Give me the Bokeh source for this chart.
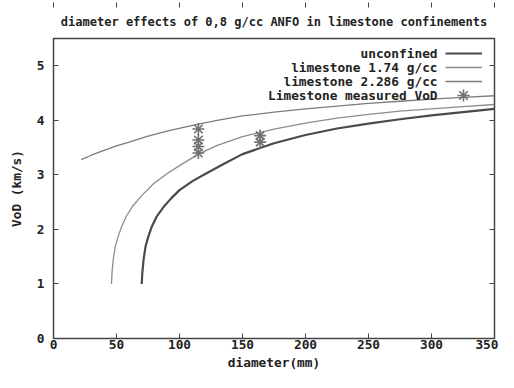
from bokeh.plotting import figure
from bokeh.models import (Range1d, LinearAxis, Legend, LegendItem, Label,
                          FixedTicker, Title)
from bokeh.embed import file_html
from bokeh.resources import INLINE

# ---- data ----
unconf_d = [70, 70.5, 71.5, 73, 75, 78, 82, 87, 93, 100, 110, 120, 135, 150,
            175, 200, 225, 250, 275, 300, 325, 350]
unconf_v = [1.0, 1.2, 1.45, 1.68, 1.85, 2.05, 2.24, 2.40, 2.56, 2.72, 2.88,
            3.01, 3.20, 3.38, 3.58, 3.73, 3.85, 3.94, 4.02, 4.09, 4.15, 4.21]

ls174_d = [46, 46.5, 47.5, 49, 51, 54, 58, 63, 70, 80, 90, 100, 115, 130, 150,
           175, 200, 225, 250, 275, 300, 325, 350]
ls174_v = [1.0, 1.22, 1.47, 1.68, 1.85, 2.05, 2.25, 2.43, 2.62, 2.85, 3.02,
           3.17, 3.38, 3.54, 3.70, 3.84, 3.95, 4.04, 4.11, 4.17, 4.21, 4.25, 4.29]

ls2286_d = [22, 30, 40, 50, 60, 75, 90, 105, 115, 130, 150, 175, 200, 225, 250,
            275, 300, 325, 350]
ls2286_v = [3.28, 3.36, 3.45, 3.53, 3.60, 3.71, 3.80, 3.88, 3.93, 4.00, 4.08,
            4.15, 4.21, 4.26, 4.31, 4.35, 4.39, 4.42, 4.45]

meas_d = [115, 115, 115, 115, 164, 164]
meas_v = [3.40, 3.52, 3.64, 3.84, 3.60, 3.72]

series_names = ["unconfined", "limestone 1.74 g/cc", "limestone 2.286 g/cc",
                "Limestone measured VoD"]
x_ticks = [0, 50, 100, 150, 200, 250, 300, 350]
y_ticks = [0, 1, 2, 3, 4, 5]

FONT = "DejaVu Sans Mono"
FS = "12.8px"
TXT = "#222222"

p = figure(width=498, height=372, x_range=Range1d(0, 350), y_range=Range1d(0, 5.5),
           output_backend="svg", toolbar_location=None,
           min_border_left=53, min_border_right=4, min_border_top=38,
           min_border_bottom=34)
p.add_layout(Title(text="diameter effects of 0,8 g/cc ANFO in limestone confinements",
                   align="center", text_font=FONT, text_font_size="12px",
                   text_font_style="bold", text_color=TXT, standoff=20), "above")

p.xgrid.visible = False
p.ygrid.visible = False
p.outline_line_color = "#444444"
p.outline_line_width = 1.5
p.background_fill_color = "white"

for ax in (p.xaxis[0], p.yaxis[0]):
    ax.axis_line_color = None
    ax.major_tick_in = 5
    ax.major_tick_out = 0
    ax.minor_tick_line_color = None
    ax.major_tick_line_color = "#444444"
    ax.major_label_text_font = FONT
    ax.major_label_text_font_size = FS
    ax.major_label_text_font_style = "bold"
    ax.major_label_text_color = TXT
    ax.axis_label_text_font = FONT
    ax.axis_label_text_font_size = FS
    ax.axis_label_text_font_style = "bold"
    ax.axis_label_text_color = TXT

p.xaxis[0].ticker = FixedTicker(ticks=x_ticks)
p.yaxis[0].ticker = FixedTicker(ticks=y_ticks)
p.xaxis[0].axis_label = "diameter(mm)"
p.yaxis[0].axis_label = "VoD (km/s)"
p.xaxis[0].major_label_standoff = 1
p.xaxis[0].axis_label_standoff = 3
p.yaxis[0].major_label_standoff = 9
p.yaxis[0].axis_label_standoff = 10

# mirrored ticks (top / right), no labels
top = LinearAxis(ticker=FixedTicker(ticks=x_ticks))
right = LinearAxis(ticker=FixedTicker(ticks=y_ticks))
for ax in (top, right):
    ax.axis_line_color = None
    ax.major_tick_in = 5
    ax.major_tick_out = 0
    ax.minor_tick_line_color = None
    ax.major_tick_line_color = "#444444"
    ax.major_label_text_font_size = "1px"
    ax.major_label_text_color = None
    ax.major_label_standoff = 0
p.add_layout(top, "above")
p.add_layout(right, "right")

r1 = p.line(unconf_d, unconf_v, line_color="#4a4a4a", line_width=2.2)
r2 = p.line(ls174_d, ls174_v, line_color="#8c8c8c", line_width=1.3)
r3 = p.line(ls2286_d, ls2286_v, line_color="#7c7c7c", line_width=1.3)
r4 = p.scatter(meas_d, meas_v, marker="asterisk", size=12, line_color="#707070",
               line_width=1.6)

leg = Legend(items=[LegendItem(label=" ", renderers=[r]) for r in (r1, r2, r3)],
             location="top_right", margin=8, padding=0, label_width=4,
             label_standoff=0, glyph_width=37, glyph_height=14, label_height=14,
             spacing=0, border_line_color=None, background_fill_alpha=0,
             label_text_font_size="1px", label_text_color=None)
p.add_layout(leg)

leg_star = Legend(items=[LegendItem(label=" ", renderers=[r4])],
                  location=(395, 228), margin=0, padding=0, label_width=0,
                  label_standoff=0, glyph_width=30, glyph_height=30,
                  label_height=30, spacing=0, border_line_color=None,
                  background_fill_alpha=0, label_text_font_size="1px",
                  label_text_color=None)
p.add_layout(leg_star)

# legend texts, right aligned, one per legend row
leg_x = 304.8
leg_y = [5.225, 4.968, 4.712, 4.455]
for name, yy in zip(series_names, leg_y):
    p.add_layout(Label(x=leg_x, y=yy, text=name, text_align="right",
                       text_baseline="middle", text_font=FONT, text_font_size=FS,
                       text_font_style="bold", text_color=TXT))

open("out.html", "w").write(file_html(p, INLINE))
